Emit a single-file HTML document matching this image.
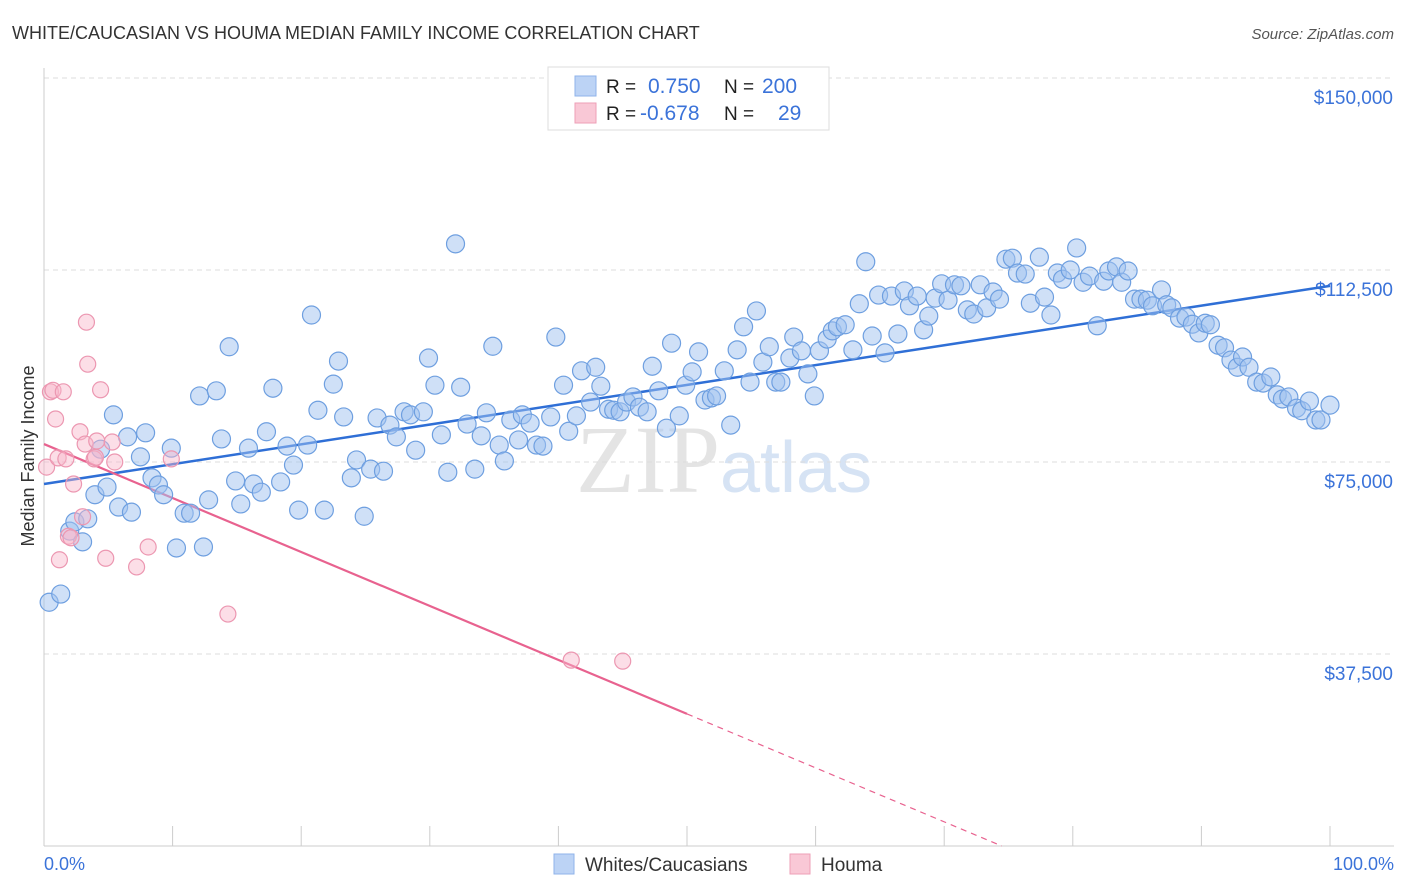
<!DOCTYPE html>
<html><head><meta charset="utf-8">
<style>
body{margin:0;background:#fff;font-family:"Liberation Sans",sans-serif;}
svg{display:block}
</style></head>
<body>
<svg id="chart" width="1406" height="892">
<text x="12" y="39" font-size="18" fill="#333">WHITE/CAUCASIAN VS HOUMA MEDIAN FAMILY INCOME CORRELATION CHART</text>
<text x="1394" y="39" font-size="15" fill="#555" text-anchor="end" font-style="italic">Source: ZipAtlas.com</text>
<text x="720" y="492" font-size="96" fill="#e4e4e4" text-anchor="end" font-family="Liberation Serif">ZIP</text>
<text x="720" y="492" font-size="72" fill="#d6e3f4">atlas</text>
<g id="grid"></g>
<g id="axes"></g>
<g id="lines"></g>
<g id="pts"></g>
<text transform="translate(34,456) rotate(-90)" font-size="18" fill="#333" text-anchor="middle">Median Family Income</text>
<text x="44" y="870" font-size="18" fill="#3b73d9">0.0%</text>
<text x="1394" y="870" font-size="18" fill="#3b73d9" text-anchor="end">100.0%</text>
<g>
<rect x="548" y="67" width="281" height="63" fill="#fff" stroke="#ddd"/>
<rect x="575" y="76" width="21" height="20" fill="#bcd3f5" stroke="#8fb3ea"/>
<rect x="575" y="103" width="21" height="20" fill="#f9c8d6" stroke="#ee9fb7"/>
<text x="606" y="93" font-size="19" fill="#222">R = </text><text x="648" y="93" font-size="21" fill="#3b73d9">0.750</text>
<text x="724" y="93" font-size="19" fill="#222">N = </text><text x="762" y="93" font-size="21" fill="#3b73d9">200</text>
<text x="606" y="120" font-size="19" fill="#222">R = </text><text x="640" y="120" font-size="21" fill="#3b73d9">-0.678</text>
<text x="724" y="120" font-size="19" fill="#222">N = </text><text x="778" y="120" font-size="21" fill="#3b73d9">29</text>
</g>
<g>
<rect x="554" y="854" width="20" height="20" fill="#bcd3f5" stroke="#8fb3ea"/>
<text x="585" y="871" font-size="19" fill="#333">Whites/Caucasians</text>
<rect x="790" y="854" width="20" height="20" fill="#f9c8d6" stroke="#ee9fb7"/>
<text x="821" y="871" font-size="19" fill="#333">Houma</text>
</g>
</svg>
<script>
const yTicks=[37500,75000,112500,150000];
const yTickLabels=["$37,500","$75,000","$112,500","$150,000"];
const xTicks=[0,10,20,30,40,50,60,70,80,90,100];
const blueX=[0.4,1.3,2.0,2.4,3.0,3.4,3.96,4.4,4.9,5.4,5.8,6.5,6.8,7.5,7.9,8.4,8.9,9.3,9.9,10.3,10.9,11.4,12.1,12.4,12.8,13.4,13.8,14.4,14.9,15.3,15.9,16.3,16.9,17.3,17.8,18.4,18.9,19.4,19.8,20.5,20.8,21.3,21.8,22.5,22.9,23.3,23.9,24.3,24.9,25.4,25.9,26.4,26.9,27.4,28.0,28.5,28.9,29.5,29.9,30.4,30.9,31.4,32.0,32.4,32.9,33.5,34.0,34.4,34.9,35.4,35.8,36.3,36.9,37.2,37.8,38.3,38.8,39.4,39.8,40.4,40.8,41.4,41.8,42.5,42.9,43.3,43.9,44.3,44.8,45.3,45.8,46.3,46.9,47.3,47.8,48.4,48.8,49.4,49.9,50.4,50.9,51.4,51.9,52.3,52.9,53.4,53.9,54.4,54.9,55.4,55.9,56.4,56.9,57.3,58.0,58.3,58.9,59.4,59.9,60.3,60.9,61.3,61.7,62.3,62.9,63.4,63.9,64.4,64.9,65.4,65.9,66.4,66.9,67.3,67.9,68.4,68.8,69.3,69.8,70.3,70.8,71.3,71.8,72.3,72.8,73.3,73.8,74.3,74.8,75.3,75.7,76.3,76.7,77.4,77.8,78.3,78.8,79.2,79.8,80.3,80.8,81.3,81.9,82.4,82.8,83.4,83.8,84.3,84.8,85.3,85.8,86.2,86.9,87.3,87.7,88.3,88.8,89.3,89.8,90.3,90.7,91.3,91.8,92.3,92.8,93.2,93.7,94.3,94.8,95.4,95.9,96.3,96.8,97.4,97.8,98.4,98.9,99.3,100];
const blueY=[47.6,49.2,61.5,63.3,59.4,63.9,68.6,77.5,70.1,84.2,66.2,79.9,65.2,76.0,80.7,71.9,70.5,68.6,77.7,58.2,65.0,65.0,87.9,58.4,67.6,88.9,79.5,97.5,71.3,66.8,77.7,70.7,69.1,80.9,89.4,71.1,78.1,74.4,65.6,78.3,103.7,85.1,65.6,90.2,94.7,83.8,71.9,75.4,64.4,73.6,83.6,73.2,82.2,79.9,84.8,84.2,77.3,84.8,95.3,90.0,80.3,73.0,117.6,89.6,82.4,73.6,80.1,84.6,97.6,78.3,75.2,83.2,79.3,84.2,82.6,78.3,78.1,83.8,99.4,90.0,81.0,84.0,92.8,86.7,93.5,89.8,85.3,85.1,84.8,86.7,87.7,85.7,84.8,93.7,88.9,81.6,98.2,84.0,90.0,92.6,96.5,87.1,87.5,87.9,92.8,82.2,96.9,101.4,90.6,104.5,94.5,97.5,90.6,90.6,95.3,99.4,96.7,92.2,87.9,96.7,99.0,100.6,101.4,101.8,96.9,105.9,114.1,99.6,107.6,96.3,107.4,100.0,108.4,105.5,107.4,100.8,103.5,107.0,109.8,106.6,109.6,109.4,104.7,103.9,109.6,105.1,108.2,106.8,114.6,114.8,111.9,111.7,106.0,115.0,107.2,103.7,111.9,110.7,112.5,116.8,110.1,111.3,101.6,110.3,112.3,113.1,110.1,112.3,106.8,106.8,106.6,105.5,108.6,105.7,105.1,103.1,103.3,101.9,100.2,102.1,101.8,97.8,97.3,94.9,93.5,95.5,93.5,90.6,90.4,91.6,88.1,87.3,87.7,85.5,85.0,86.9,83.2,83.2,86.1];
const pinkX=[0.2,0.5,0.7,0.9,1.1,1.2,1.5,1.7,1.9,2.1,2.3,2.8,3.0,3.2,3.3,3.4,3.9,4.1,4.4,4.8,5.3,5.5,7.2,8.1,9.9,14.3,41.0,45.0,4.0];
const pinkY=[74.0,88.7,89.0,83.4,75.8,55.9,88.7,75.6,60.5,60.2,70.7,80.9,64.3,78.5,102.3,94.1,75.6,79.1,89.1,56.2,78.9,75.0,54.5,58.4,75.6,45.3,36.3,36.1,75.9];
const blueLine=[70.7,109.4];   // value (K) at 0% and 100%
const pinkLine=[78.5,25.8];    // value (K) at 0% and 50%

const NS="http://www.w3.org/2000/svg";
const X=v=>44+v*12.86;
const Y=v=>846-v/195.3;
function mk(tag,attrs,parent){const e=document.createElementNS(NS,tag);for(const k in attrs)e.setAttribute(k,attrs[k]);parent.appendChild(e);return e;}
const grid=document.getElementById('grid'),axes=document.getElementById('axes'),lines=document.getElementById('lines'),pts=document.getElementById('pts');
yTicks.forEach((t,i)=>{
  const g=mk('line',{x1:44,x2:1394,y1:Y(t),y2:Y(t),stroke:'#ddd','stroke-dasharray':'5,4'},grid);
  
  
  const tx=mk('text',{x:1393,y:Y(t)+26,'font-size':19,fill:'#3b73d9','text-anchor':'end'},axes);
  tx.textContent=yTickLabels[i];
  
  
});
const ax=mk('line',{x1:44,x2:44,y1:68,y2:846,stroke:'#ccc'},axes);


const bx=mk('line',{x1:44,x2:1394,y1:846,y2:846,stroke:'#ccc'},axes);


xTicks.forEach(t=>{
  const l=mk('line',{x1:X(t),x2:X(t),y1:826,y2:846,stroke:'#ccc'},axes);
  
  
});
blueX.forEach((x,i)=>{
  const c=mk('circle',{cx:X(x),cy:Y(blueY[i]*1000),r:9,fill:'rgba(160,193,240,0.5)',stroke:'#6e9fe0','stroke-width':1.2},pts);
  
  
});
pinkX.forEach((x,i)=>{
  const c=mk('circle',{cx:X(x),cy:Y(pinkY[i]*1000),r:8,fill:'rgba(248,182,202,0.45)',stroke:'#ec97b1','stroke-width':1.2},pts);
  
  
});
const bl=mk('line',{x1:X(0),y1:Y(blueLine[0]*1000),x2:X(100),y2:Y(blueLine[1]*1000),stroke:'#2f6fd6','stroke-width':2.5},lines);


const slope=(pinkLine[1]-pinkLine[0])/50;
const xEnd=-pinkLine[0]/slope;
const pl=mk('line',{x1:X(0),y1:Y(pinkLine[0]*1000),x2:X(50),y2:Y(pinkLine[1]*1000),stroke:'#e8628f','stroke-width':2.2},lines);


const pd=mk('line',{x1:X(50),y1:Y(pinkLine[1]*1000),x2:X(xEnd),y2:Y(0),stroke:'#e8628f','stroke-width':1.2,'stroke-dasharray':'6,5'},lines);


</script>
</body></html>
